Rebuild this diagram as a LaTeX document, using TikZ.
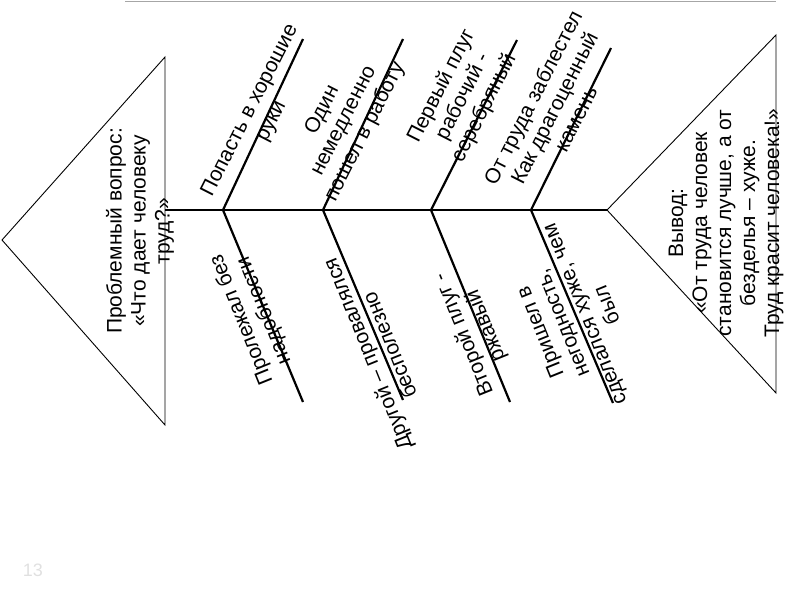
\documentclass[tikz,border=0pt]{standalone}
\usepackage{fontspec}
\setmainfont{Liberation Sans}

\begin{document}
\begin{tikzpicture}[
    x=1pt, y=-1pt,
    cause/.style={align=center, font=\fontsize{21}{24}\selectfont, inner sep=0pt},
    causeup/.style={cause, rotate=63},
    causedown/.style={cause, rotate=112},
    headtext/.style={cause, rotate=90},
    bone/.style={line width=2.2pt},
    spine/.style={line width=2.8pt},
    fishhead/.style={line width=0.9pt, line join=miter}
]
\useasboundingbox (0,0) rectangle (800,600);

% Top rule
\coordinate (ruleL) at (125,1);
\coordinate (ruleR) at (776,1);
\draw[black!35, line width=1pt] (ruleL) -- (ruleR);

% Tail and head
\coordinate (tailtip) at (2,240);
\coordinate (tailtop) at (165,57);
\coordinate (tailbot) at (165,425);
\coordinate (headtip) at (607,210);
\coordinate (headtop) at (776,35);
\coordinate (headbot) at (776,393);
\draw[fishhead] (tailtip) -- (tailtop) -- (tailbot) -- cycle;
\draw[fishhead] (headtip) -- (headtop) -- (headbot) -- cycle;

% Spine
\coordinate (spinestart) at (165,210);
\draw[spine] (spinestart) -- (headtip);

% Bones
\coordinate (j1) at (223,210);
\coordinate (j2) at (323,210);
\coordinate (j3) at (431,210);
\coordinate (j4) at (531,210);
\coordinate (u1) at (303,39);
\coordinate (u2) at (403,39);
\coordinate (u3) at (517,40);
\coordinate (u4) at (611,48);
\coordinate (d1) at (303,402);
\coordinate (d2) at (403,400);
\coordinate (d3) at (510,402);
\coordinate (d4) at (613,403);
\draw[bone] (u1) -- (j1) -- (d1);
\draw[bone] (u2) -- (j2) -- (d2);
\draw[bone] (u3) -- (j3) -- (d3);
\draw[bone] (u4) -- (j4) -- (d4);

% Question and conclusion
\node[headtext] (question) at (140,231) {Проблемный вопрос:\\«Что дает человеку\\труд?»};
\node[headtext] (conclusion) at (726,223) {Вывод:\\«От труда человек\\становится лучше, а от\\безделья – хуже.\\Труд красит человека!»};

% Upper causes
\node[causeup] (hands) at (261,116) {Попасть в хорошие\\руки};
\node[causeup] (work) at (344,121) {Один\\немедленно\\пошел в работу};
\node[causeup] (silver) at (463,97) {Первый плуг\\рабочий -\\серебряный};
\node[causeup] (jewel) at (554,108) {От труда заблестел\\Как драгоценный\\камень};

% Lower causes
\node[causedown] (idle) at (253,315) {Пролежал без\\надобности};
\node[causedown] (useless) at (378,350) {Другой – провалялся\\бесполезно};
\node[causedown] (rusty) at (475,330) {Второй плуг -\\ржавый};
\node[causedown] (worse) at (573,319) {Пришел в\\негодность,\\сделался хуже, чем\\был};

% Slide number
\node[text=black!12, font=\fontsize{18}{20}\selectfont] (slidenum) at (33,570) {13};

\end{tikzpicture}
\end{document}
